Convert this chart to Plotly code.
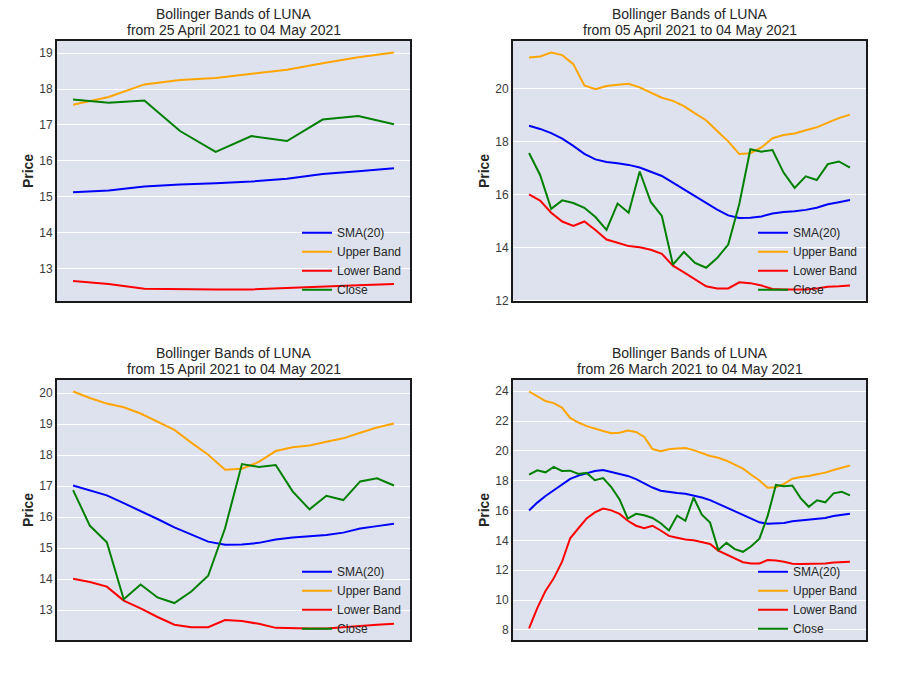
import pandas as pd
import plotly.graph_objects as go

# ---- data (Mar 26 2021 .. May 4 2021, daily) ----
dates = pd.date_range("2021-03-26", "2021-05-04", freq="D")

close = [18.41, 18.70, 18.56, 18.92, 18.65, 18.67, 18.45, 18.52, 18.03, 18.17,
         17.57, 16.74, 15.46, 15.78, 15.68, 15.50, 15.15, 14.66, 15.66, 15.31,
         16.87, 15.72, 15.19, 13.35, 13.83, 13.41, 13.23, 13.60, 14.11, 15.64,
         17.71, 17.62, 17.68, 16.83, 16.25, 16.69, 16.55, 17.15, 17.25, 17.02]

upper = [23.98, 23.65, 23.34, 23.20, 22.90, 22.21, 21.90, 21.66, 21.48, 21.33,
         21.18, 21.22, 21.37, 21.27, 20.93, 20.12, 19.98, 20.10, 20.15, 20.19,
         20.05, 19.84, 19.66, 19.54, 19.34, 19.07, 18.81, 18.40, 18.01, 17.53,
         17.56, 17.78, 18.13, 18.25, 18.31, 18.43, 18.54, 18.72, 18.89, 19.02]

sma = [16.00, 16.53, 16.97, 17.35, 17.75, 18.12, 18.34, 18.52, 18.65, 18.72,
       18.60, 18.48, 18.32, 18.11, 17.84, 17.54, 17.33, 17.23, 17.18, 17.12,
       17.02, 16.87, 16.70, 16.45, 16.20, 15.94, 15.67, 15.43, 15.21, 15.11,
       15.12, 15.17, 15.28, 15.34, 15.37, 15.42, 15.50, 15.63, 15.71, 15.79]

lower = [8.09, 9.46, 10.61, 11.45, 12.55, 14.14, 14.81, 15.47, 15.87, 16.13,
         16.01, 15.77, 15.31, 14.98, 14.81, 14.98, 14.66, 14.30, 14.18, 14.05,
         14.01, 13.91, 13.76, 13.31, 13.06, 12.78, 12.53, 12.45, 12.45, 12.68,
         12.65, 12.56, 12.43, 12.41, 12.41, 12.41, 12.45, 12.51, 12.53, 12.56]

# window length (days) per panel: top-left, top-right, bottom-left, bottom-right
windows = [10, 30, 20, 40]
y_dticks = [1, 2, 1, 2]

series_names = ["SMA(20)", "Upper Band", "Lower Band", "Close"]
series_data = [sma, upper, lower, close]
series_colors = ["#0000FF", "#FFA500", "#FF0000", "#008000"]

# ---- layout geometry ----
W, H = 912, 684
x_doms = [(57 / W, 410 / W), (513 / W, 866 / W)]
y_doms = [(1 - 304 / H, 1 - 41 / H), (1 - 646 / H, 1 - 383 / H)]
panel_pos = [(0, 0), (1, 0), (0, 1), (1, 1)]  # (col,row)

FONT = "Liberation Sans, Arial, sans-serif"
TXT = "#262626"

fig = go.Figure()
annotations = []
layout_extra = {}

for k, n in enumerate(windows):
    col, row = panel_pos[k]
    xd = x_doms[col]
    yd = y_doms[row]
    sfx = "" if k == 0 else str(k + 1)
    legend_id = "legend" if k == 0 else f"legend{k + 1}"
    d = dates[-n:]
    vals_all = []
    for name, arr, colr in zip(series_names, series_data, series_colors):
        v = arr[-n:]
        vals_all += v
        fig.add_trace(go.Scatter(
            x=d, y=v, mode="lines", name=name,
            line=dict(color=colr, width=2),
            xaxis="x" + sfx, yaxis="y" + sfx, legend=legend_id,
            hoverinfo="skip"))
    lo, hi = min(vals_all), max(vals_all)
    pad = 0.05 * (hi - lo)
    xpad = pd.Timedelta(days=0.05 * (n - 1))
    layout_extra["xaxis" + sfx] = dict(
        domain=list(xd), anchor="y" + sfx,
        range=[d[0] - xpad, d[-1] + xpad],
        showticklabels=False, showgrid=False, zeroline=False, ticks="",
        showline=True, mirror=True, linecolor="#1a1a1a", linewidth=2)
    layout_extra["yaxis" + sfx] = dict(
        domain=list(yd), anchor="x" + sfx,
        range=[lo - pad, hi + pad], dtick=y_dticks[k],
        showgrid=True, gridcolor="white", gridwidth=1, zeroline=False,
        ticks="", ticklabelstandoff=0,
        tickfont=dict(family=FONT, size=12, color="#3a3a3a"),
        title=dict(text="<b>Price</b>", standoff=2,
                   font=dict(family=FONT, size=14, color=TXT)),
        showline=True, mirror=True, linecolor="#1a1a1a", linewidth=2)
    layout_extra[legend_id] = dict(
        x=xd[0] + (297 - 57) / W, xanchor="left",
        y=yd[0] - 3 / H, yanchor="bottom",
        bgcolor="rgba(0,0,0,0)", borderwidth=0,
        font=dict(family=FONT, size=12, color=TXT),
        tracegroupgap=0, itemwidth=30)
    start_txt = d[0].strftime("%d %B %Y")
    end_txt = d[-1].strftime("%d %B %Y")
    xc = (xd[0] + xd[1]) / 2
    annotations.append(dict(
        text="Bollinger Bands of LUNA", x=xc, y=yd[1], xref="paper", yref="paper",
        xanchor="center", yanchor="middle", yshift=27, showarrow=False,
        font=dict(family=FONT, size=14, color=TXT)))
    annotations.append(dict(
        text=f"from {start_txt} to {end_txt}", x=xc, y=yd[1], xref="paper", yref="paper",
        xanchor="center", yanchor="middle", yshift=11, showarrow=False,
        font=dict(family=FONT, size=14, color=TXT)))

fig.update_layout(
    width=W, height=H,
    margin=dict(l=0, r=0, t=0, b=0),
    paper_bgcolor="white", plot_bgcolor="#dde2ee",
    showlegend=True,
    annotations=annotations,
    **layout_extra)

fig.write_html("out.html")
